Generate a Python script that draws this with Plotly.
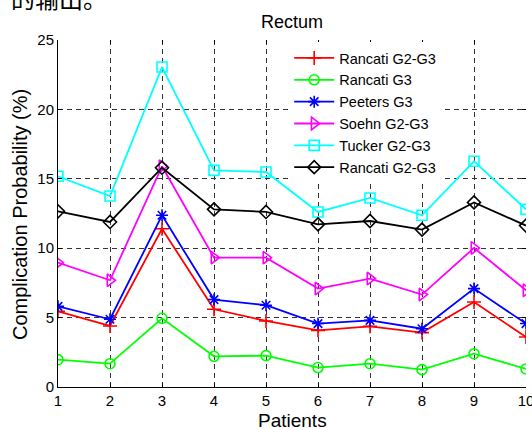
import plotly.graph_objects as go

patients = [1, 2, 3, 4, 5, 6, 7, 8, 9, 10]
rancati_g2g3 = [5.45, 4.40, 11.40, 5.60, 4.76, 4.08, 4.37, 3.92, 6.12, 3.60]
rancati_g3 = [1.97, 1.68, 4.95, 2.21, 2.26, 1.40, 1.68, 1.25, 2.40, 1.30]
peeters_g3 = [5.81, 4.88, 12.37, 6.30, 5.89, 4.57, 4.80, 4.20, 7.09, 4.57]
soehn_g2g3 = [8.96, 7.69, 15.90, 9.32, 9.32, 7.09, 7.81, 6.66, 10.02, 6.97]
tucker_g2g3 = [15.18, 13.76, 23.05, 15.61, 15.49, 12.61, 13.62, 12.37, 16.26, 12.80]
rancati2_g2g3 = [12.66, 11.89, 15.80, 12.80, 12.61, 11.72, 11.96, 11.34, 13.30, 11.63]

series_names = ["Rancati G2-G3", "Rancati G3", "Peeters G3", "Soehn G2-G3", "Tucker G2-G3", "Rancati G2-G3"]
y_ticks = [0, 5, 10, 15, 20, 25]

FONT = "Arial, Liberation Sans, sans-serif"
L, R, T, B = 58, 6, 40, 42
W, H = 532, 429
PW, PH = W - L - R, H - T - B

styles = [
    ("#FF0000", "cross-thin", 10),
    ("#00FF00", "circle-open", 10),
    ("#0000FF", "asterisk", 10),
    ("#FF00FF", "triangle-right-open", 11),
    ("#00FFFF", "square-open", 10),
    ("#000000", "diamond-open", 10),
]
data = [rancati_g2g3, rancati_g3, peeters_g3, soehn_g2g3, tucker_g2g3, rancati2_g2g3]

fig = go.Figure()
for name, vals, (col, sym, sz) in zip(series_names, data, styles):
    fig.add_trace(go.Scatter(
        x=patients, y=vals, name=name, mode="lines+markers",
        line=dict(color=col, width=1.8),
        marker=dict(symbol=sym, size=sz, color=col, line=dict(color=col, width=1.6)),
    ))

# helper trace for mirrored tick marks (top/right)
fig.add_trace(go.Scatter(x=patients, y=tucker_g2g3, mode="none", xaxis="x2", yaxis="y2",
                         showlegend=False, hoverinfo="skip"))

grid = dict(showgrid=True, gridcolor="#333333", gridwidth=1, griddash="5px,4px", zeroline=False)

fig.update_layout(
    width=W, height=H,
    margin=dict(l=L, r=R, t=T, b=B, autoexpand=False),
    paper_bgcolor="white", plot_bgcolor="white",
    font=dict(family=FONT, color="black", size=15),
    title=dict(text="Rectum", x=0.5, xanchor="center", xref="paper",
               y=1 - 28 / H, yanchor="bottom", yref="container",
               font=dict(family=FONT, size=18, color="black")),
    xaxis=dict(range=[1, 10], tickvals=patients, ticks="inside", ticklen=4, tickcolor="black",
               showline=True, linecolor="black", linewidth=1, automargin=False,
               ticklabeloverflow="allow",
               tickfont=dict(family=FONT, size=15), **grid),
    yaxis=dict(range=[0, 25], tickvals=y_ticks, ticks="inside", ticklen=4, tickcolor="black",
               showline=True, linecolor="black", linewidth=1, automargin=False,
               ticklabeloverflow="allow",
               tickfont=dict(family=FONT, size=15), **grid),
    xaxis2=dict(range=[1, 10], tickvals=patients, overlaying="x", side="top", anchor="y2",
                ticks="inside", ticklen=4, tickcolor="black", showticklabels=False,
                showgrid=False, showline=False, zeroline=False, automargin=False),
    yaxis2=dict(range=[0, 25], tickvals=y_ticks, overlaying="y", side="right", anchor="x2",
                ticks="inside", ticklen=4, tickcolor="black", showticklabels=False,
                showgrid=False, showline=False, zeroline=False, automargin=False),
    legend=dict(x=0.494, xanchor="left", y=1 - 2 / PH, yanchor="top",
                bgcolor="white", borderwidth=0, itemwidth=40,
                font=dict(family=FONT, size=14.5, color="black"),
                tracegroupgap=0),
    showlegend=True,
)

# axis titles
fig.add_annotation(text="Patients", xref="paper", yref="paper",
                   x=0.5, xanchor="center", y=-(408 - (T + PH)) / PH, yanchor="top",
                   showarrow=False, font=dict(family=FONT, size=19, color="black"))
fig.add_annotation(text="Complication Probability (%)", xref="paper", yref="paper",
                   x=(20 - L) / PW, xanchor="center", y=1 - (215 - T) / PH, yanchor="middle",
                   textangle=-90, showarrow=False, font=dict(family=FONT, size=20, color="black"))

fig.add_annotation(text="的输出。", xref="paper", yref="paper",
                   x=(9 - L) / PW, xanchor="left", y=1 + 43 / PH, yanchor="middle",
                   showarrow=False, font=dict(family="Noto Sans CJK SC", size=24, color="black"))

fig.write_html("out.html", config={"displayModeBar": False},
               post_script="document.body.style.margin='0';document.body.style.overflow='hidden';")
